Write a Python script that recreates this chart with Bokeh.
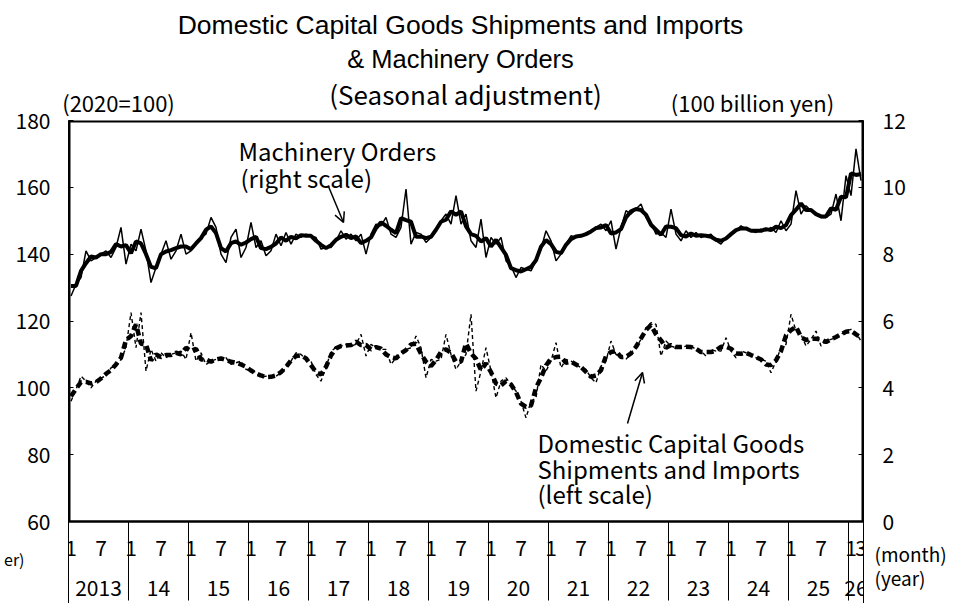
from bokeh.plotting import figure
from bokeh.models import Range1d, LinearAxis, FixedTicker, Label, Arrow, OpenHead, ColumnDataSource
from bokeh.core.properties import value
from bokeh.embed import file_html
from bokeh.resources import INLINE

FONT = "Noto Sans CJK JP"
TITLE_FONT = "Liberation Sans"

# ---------------- data ----------------
year_labels = ["2013", "14", "15", "16", "17", "18", "19", "20", "21", "22", "23", "24", "25", "26"]
months_in_year = [12] * 13 + [3]
month_tick_year = [k for k in range(13) for _ in (0, 1)] + [13, 13]
month_tick_months = [1, 7] * 13 + [1, 3]
month_tick_labels = [str(m) for m in month_tick_months]

left_ticks = [60, 80, 100, 120, 140, 160, 180]
right_ticks = [0, 2, 4, 6, 8, 10, 12]

# Machinery Orders (100 billion yen, right scale) - monthly
machinery_monthly = [
    6.75, 7.10, 7.30, 8.10, 7.80, 7.90, 8.00, 8.10, 7.90, 8.20, 8.80, 7.70,
    8.30, 8.10, 8.75, 8.10, 7.15, 7.60, 8.00, 8.40, 7.85, 8.10, 8.60, 8.00,
    8.10, 8.35, 8.50, 8.60, 9.10, 8.80, 8.00, 7.75, 8.50, 8.75, 7.90, 8.20,
    8.95, 8.20, 8.40, 7.95, 8.10, 8.60, 8.25, 8.65, 8.30, 8.60, 8.50, 8.60,
    8.55, 8.50, 8.15, 8.20, 8.20, 8.40, 8.70, 8.45, 8.60, 8.40, 8.60, 8.00,
    8.60, 8.90, 8.85, 9.10, 8.60, 8.50, 8.80, 9.95, 8.30, 8.65, 8.60, 8.35,
    8.50, 8.70, 9.00, 9.20, 8.90, 9.75, 8.90, 9.20, 8.40, 8.20, 9.05, 7.90,
    8.50, 8.30, 8.50, 7.80, 7.65, 7.30, 7.60, 7.55, 7.50, 7.80, 8.15, 8.70,
    8.40, 7.80, 8.00, 8.30, 8.55, 8.50, 8.55, 8.60, 8.65, 8.80, 8.90, 8.70,
    9.00, 8.15, 8.80, 9.30, 9.20, 9.35, 9.50, 9.10, 8.95, 8.60, 8.65, 8.50,
    9.35, 8.60, 8.40, 8.70, 8.50, 8.65, 8.50, 8.55, 8.60, 8.40, 8.30, 8.50,
    8.60, 8.70, 8.85, 8.75, 8.70, 8.65, 8.75, 8.70, 8.80, 8.65, 9.00, 8.70,
    8.90, 9.90, 9.20, 9.45, 9.30, 9.20, 9.10, 9.10, 9.20, 9.80, 9.00, 10.35,
    9.75, 11.15, 10.20,
]
# Machinery Orders - smoothed (thick line)
machinery_smooth = [
    7.05, 7.05, 7.50, 7.73, 7.93, 7.90, 8.00, 8.00, 8.07, 8.30, 8.23, 8.27,
    8.03, 8.38, 8.32, 8.00, 7.62, 7.58, 8.00, 8.08, 8.12, 8.18, 8.23, 8.23,
    8.15, 8.32, 8.48, 8.73, 8.83, 8.63, 8.18, 8.08, 8.33, 8.38, 8.28, 8.35,
    8.45, 8.52, 8.18, 8.15, 8.22, 8.32, 8.50, 8.40, 8.52, 8.47, 8.57, 8.55,
    8.55, 8.40, 8.28, 8.18, 8.27, 8.43, 8.52, 8.58, 8.48, 8.53, 8.33, 8.40,
    8.50, 8.78, 8.95, 8.85, 8.73, 8.63, 9.08, 9.02, 8.97, 8.52, 8.53, 8.48,
    8.52, 8.73, 8.97, 9.03, 9.28, 9.18, 9.28, 8.83, 8.60, 8.55, 8.38, 8.48,
    8.23, 8.43, 8.20, 7.98, 7.58, 7.52, 7.48, 7.55, 7.62, 7.82, 8.22, 8.42,
    8.30, 8.07, 8.03, 8.28, 8.45, 8.53, 8.55, 8.60, 8.68, 8.78, 8.80, 8.87,
    8.62, 8.65, 8.75, 9.10, 9.28, 9.35, 9.32, 9.18, 8.88, 8.73, 8.58, 8.83,
    8.82, 8.78, 8.57, 8.53, 8.62, 8.55, 8.57, 8.55, 8.52, 8.43, 8.40, 8.47,
    8.60, 8.72, 8.77, 8.77, 8.70, 8.70, 8.70, 8.75, 8.72, 8.82, 8.78, 8.87,
    9.17, 9.33, 9.52, 9.32, 9.32, 9.20, 9.13, 9.13, 9.37, 9.33, 9.72, 9.70,
    10.42, 10.37, 10.40,
]
# Domestic Capital Goods Shipments and Imports (2020=100, left scale) - monthly
shipments_monthly = [
    96.0, 99.5, 103.5, 102.0, 100.0, 102.0, 103.0, 103.5, 106.0, 106.5, 108.5, 112.0,
    122.5, 112.0, 122.5, 105.0, 111.5, 108.0, 110.5, 109.0, 110.0, 110.5, 111.0, 108.5,
    116.5, 108.0, 110.5, 107.0, 108.0, 108.5, 109.0, 109.0, 107.0, 107.5, 108.0, 105.5,
    105.5, 104.5, 103.0, 103.5, 103.0, 103.5, 104.5, 106.0, 108.0, 110.5, 110.0, 108.5,
    108.0, 104.0, 102.0, 106.0, 111.0, 112.0, 112.5, 113.0, 112.5, 113.0, 116.0, 109.5,
    113.0, 112.0, 111.5, 111.5, 107.0, 109.0, 110.5, 111.5, 112.0, 115.5, 112.0, 103.0,
    108.5, 108.0, 108.5, 116.0, 110.0, 105.5, 108.0, 110.0, 122.0, 99.0, 105.0, 112.0,
    105.0, 97.0, 102.0, 103.0, 101.0, 99.0, 96.0, 91.0, 96.0, 97.0, 107.0, 105.0,
    108.0, 113.5, 106.0, 108.5, 108.0, 107.0, 106.0, 105.5, 103.0, 101.5, 106.5, 108.0,
    114.0, 110.0, 109.0, 108.5, 110.5, 112.0, 114.5, 118.0, 119.5, 119.0, 109.5, 114.0,
    112.5, 112.0, 112.0, 112.5, 112.5, 111.5, 111.0, 109.5, 111.5, 111.0, 111.0, 115.0,
    111.0, 109.0, 111.0, 110.5, 110.0, 109.0, 108.5, 108.0, 104.5, 108.0, 112.0, 113.0,
    122.0, 117.0, 116.0, 112.5, 114.5, 117.0, 112.5, 114.0, 114.5, 115.0, 116.0, 117.0,
    117.5, 116.5, 114.0,
]
# Domestic Capital Goods Shipments and Imports - smoothed (thick line)
shipments_smooth = [
    97.5, 99.7, 101.7, 101.8, 101.3, 101.7, 102.8, 104.2, 105.3, 107.0, 109.0, 114.3,
    115.5, 119.0, 113.2, 113.0, 108.2, 110.0, 109.2, 109.8, 109.8, 110.5, 110.0, 112.0,
    111.0, 111.7, 108.5, 108.5, 107.8, 108.5, 108.8, 108.3, 107.8, 107.5, 107.0, 106.3,
    105.2, 104.3, 103.7, 103.2, 103.3, 103.7, 104.7, 106.2, 108.2, 109.5, 109.7, 108.8,
    106.8, 104.7, 104.0, 106.3, 109.7, 111.8, 112.5, 112.7, 112.8, 113.8, 112.8, 112.8,
    111.5, 112.2, 111.7, 110.0, 109.2, 108.8, 110.3, 111.3, 113.0, 113.2, 110.2, 107.8,
    106.5, 108.3, 110.8, 111.5, 110.5, 107.8, 107.8, 113.3, 110.3, 108.7, 105.3, 107.3,
    104.7, 101.3, 100.7, 102.0, 101.0, 98.7, 95.3, 94.3, 94.7, 100.0, 103.0, 106.7,
    108.8, 109.2, 109.3, 107.5, 107.8, 107.0, 106.2, 104.8, 103.3, 103.7, 105.3, 109.5,
    110.7, 111.0, 109.2, 109.3, 110.3, 112.3, 114.8, 117.3, 118.8, 116.0, 114.2, 112.0,
    112.8, 112.2, 112.2, 112.3, 112.2, 111.7, 110.7, 110.7, 110.7, 111.2, 112.3, 112.3,
    111.7, 110.3, 110.2, 110.5, 109.8, 109.2, 108.5, 107.0, 106.8, 108.2, 111.0, 115.7,
    117.3, 118.3, 115.2, 114.3, 114.7, 114.7, 114.5, 113.7, 114.5, 115.2, 116.0, 116.8,
    117.0, 116.0, 115.0,
]

# ---------------- derived month positions ----------------
n_months = sum(months_in_year)
x_month = [i + 0.5 for i in range(n_months)]
year_starts = [sum(months_in_year[:k]) for k in range(len(months_in_year))]
year_bounds = year_starts + [n_months]
year_centers = [s + m / 2 for s, m in zip(year_starts, months_in_year)]
month_ticks = [year_starts[k] + m - 0.5 for k, m in zip(month_tick_year, month_tick_months)]

# ---------------- layout (pixels) ----------------
W, H = 953, 603
FL, FR, FT, BOX_B = 68, 863, 120, 521          # plot box edges on the page
PXU = (BOX_B - FT) / (left_ticks[-1] - left_ticks[0])   # px per left-axis unit


def ly(py):       # page y -> left-axis value
    return left_ticks[0] + (BOX_B - py) / PXU


def ry(py):       # page y -> right-axis value
    return (ly(py) - left_ticks[0]) * (right_ticks[-1] - right_ticks[0]) / (left_ticks[-1] - left_ticks[0])


def dx(px):       # page x -> month axis value
    return (px - FL) / ((FR - FL) / n_months)


src = ColumnDataSource(dict(x=x_month, mo=machinery_monthly, ms=machinery_smooth,
                            so=shipments_monthly, ss=shipments_smooth))

p = figure(width=W, height=H, x_range=Range1d(0, n_months), y_range=Range1d(ly(H), left_ticks[-1]),
           output_backend="svg", toolbar_location=None, x_axis_location=None,
           min_border_left=FL, min_border_right=W - FR, min_border_top=FT, min_border_bottom=0,
           background_fill_color="white", border_fill_color="white")
p.grid.visible = False
p.outline_line_color = None
p.extra_y_ranges = {"right": Range1d(ry(H), right_ticks[-1])}

# plot box border and year separators
x0, x1 = 0, n_months
y0, y1 = left_ticks[0], left_ticks[-1]
p.segment(x0=[x0, x0, x1], y0=[y0, y1, y0], x1=[x0, x1, x1], y1=[y1, y1, y1],
          line_color="black", line_width=4)
p.segment(x0=[x0], y0=[y0], x1=[x1], y1=[y0], line_color="black", line_width=2.5)
p.segment(x0=year_bounds, y0=[y0] * len(year_bounds), x1=year_bounds,
          y1=[ly(600)] * len(year_bounds), line_color="black", line_width=1)

# month / year labels under the box
p.text(x=month_ticks, y=[ly(547)] * len(month_ticks), text=month_tick_labels,
       text_font=value(FONT), text_font_size=value("21px"), text_align="center",
       text_baseline="middle", text_color="black")
p.text(x=year_centers, y=[ly(587)] * len(year_centers), text=year_labels,
       text_font=value(FONT), text_font_size=value("21px"), text_align="center",
       text_baseline="middle", text_color="black")

# series
p.line("x", "so", source=src, line_color="black", line_width=1.4, line_dash="4 3")
p.line("x", "ss", source=src, line_color="black", line_width=4.5, line_dash="7 4")
p.line("x", "mo", source=src, line_color="black", line_width=1.5, y_range_name="right")
p.line("x", "ms", source=src, line_color="black", line_width=4, y_range_name="right")


def style_axis(ax, size, standoff, tick_in=0, line=None, font=FONT):
    ax.major_tick_in = tick_in
    ax.major_tick_out = 0
    ax.minor_tick_line_color = None
    ax.major_tick_line_color = "black" if tick_in else None
    ax.axis_line_color = line
    ax.axis_line_width = 1
    ax.major_label_standoff = standoff
    ax.major_label_text_font = font
    ax.major_label_text_font_size = size
    ax.major_label_text_color = "black"


# left axis
la = p.yaxis[0]
la.ticker = FixedTicker(ticks=left_ticks)
style_axis(la, "21px", 18, tick_in=5, line="black")

# left note (clipped in reference)
quarter_y = ly(558)
la2 = LinearAxis(ticker=FixedTicker(ticks=[quarter_y]),
                 major_label_overrides={quarter_y: "er)"})
style_axis(la2, "16px", -12)
p.add_layout(la2, "left")

# right axis
ra = LinearAxis(y_range_name="right", ticker=FixedTicker(ticks=right_ticks))
style_axis(ra, "21px", 19, tick_in=5, line="black")
p.add_layout(ra, "right")

# right notes (month / year)
month_note_y, year_note_y = ry(553), ry(577)
ra2 = LinearAxis(y_range_name="right", ticker=FixedTicker(ticks=[month_note_y, year_note_y]),
                 major_label_overrides={month_note_y: "(month)", year_note_y: "(year)"})
style_axis(ra2, "19px", -34)
p.add_layout(ra2, "right")

# rows above the box (nearest first): units, subtitle, title line 2, title line 1
units_ticks = [dx(118), dx(752)]
ta = LinearAxis(ticker=FixedTicker(ticks=units_ticks),
                major_label_overrides={units_ticks[0]: "(2020=100)",
                                       units_ticks[1]: "(100 billion yen)"})
style_axis(ta, "22px", 3)
p.add_layout(ta, "above")

sa_x = dx(465)
tsa = LinearAxis(ticker=FixedTicker(ticks=[sa_x]), major_label_overrides={sa_x: "(Seasonal adjustment)"})
style_axis(tsa, "26px", -29)
p.add_layout(tsa, "above")

t_x = dx(460)
tb = LinearAxis(ticker=FixedTicker(ticks=[t_x]), major_label_overrides={t_x: "& Machinery Orders"})
style_axis(tb, "25.5px", -1, font=TITLE_FONT)
p.add_layout(tb, "above")

tc = LinearAxis(ticker=FixedTicker(ticks=[t_x]),
                major_label_overrides={t_x: "Domestic Capital Goods Shipments and Imports"})
style_axis(tc, "26.5px", 2, font=TITLE_FONT)
p.add_layout(tc, "above")


def lab(px, py, text, size="24px"):
    p.add_layout(Label(x=dx(px), y=ly(py), text=text, text_font=FONT, text_font_size=size,
                       text_align="left", text_baseline="middle", text_color="black"))


lab(238, 150, "Machinery Orders")
lab(240, 177, "(right scale)")
lab(537, 442, "Domestic Capital Goods")
lab(537, 468, "Shipments and Imports")
lab(537, 493, "(left scale)")

p.add_layout(Arrow(x_start=dx(328), y_start=ly(186), x_end=dx(343), y_end=ly(222), line_width=1.5,
                   end=OpenHead(size=10, line_width=1.5)))
p.add_layout(Arrow(x_start=dx(627), y_start=ly(423), x_end=dx(642), y_end=ly(372), line_width=1.5,
                   end=OpenHead(size=10, line_width=1.5)))

open("out.html", "w").write(file_html(p, INLINE))
